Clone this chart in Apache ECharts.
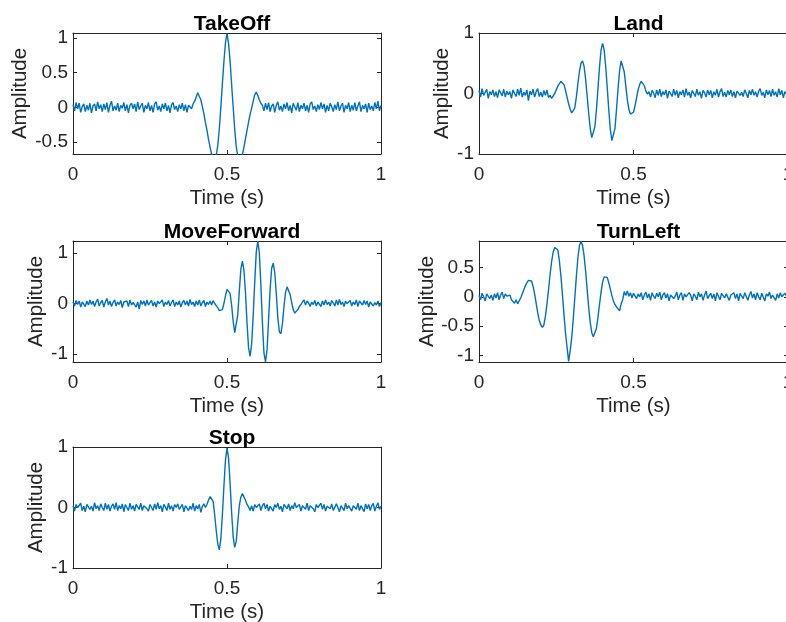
<!DOCTYPE html>
<html>
<head>
<meta charset="utf-8">
<script src="https://cdn.jsdelivr.net/npm/echarts@6/dist/echarts.min.js"></script>
<style>
  html, body { margin: 0; padding: 0; background: #fff; }
  #main { width: 786px; height: 622px; }
</style>
</head>
<body>
<div id="main"></div>
<script>
// traces are sampled every 5 ms, one row = 50 ms
var timeStep = 0.005;

var xTicks = [0, 0.5, 1];
var takeOffTicks = [-0.5, 0, 0.5, 1];
var landTicks = [-1, 0, 1];
var moveForwardTicks = [-1, 0, 1];
var turnLeftTicks = [-1, -0.5, 0, 0.5];
var stopTicks = [-1, 0, 1];

var takeOff = [
    0.04, -0.05, 0.07, -0.02, 0.06, -0.07, 0.01, 0.05, -0.06, 0.03,
    -0.04, 0.06, -0.08, 0.02, 0.05, -0.05, 0.08, -0.02, 0.04, -0.06,
    0.05, -0.03, 0.07, -0.07, 0.03, 0.09, -0.05, 0.02, -0.04, 0.06,
    -0.06, 0.03, -0.01, 0.07, -0.05, 0.04, -0.08, 0.03, 0.06, -0.02,
    0.05, -0.06, 0.08, -0.03, 0.02, 0.06, -0.07, 0.03, -0.02, 0.07,
    -0.05, 0.03, -0.07, 0.05, 0.08, -0.04, 0.02, -0.06, 0.05, -0.02,
    0.06, -0.05, 0.03, -0.08, 0.04, 0.07, -0.03, 0.02, -0.06, 0.04,
    -0.02, 0.06, -0.05, 0.04, -0.07, 0.03, 0.05, -0.02, 0.05, 0.09,
    0.15, 0.21, 0.19, 0.11, 0.01, -0.09, -0.22, -0.33, -0.46, -0.57,
    -0.67, -0.73, -0.75, -0.69, -0.55, -0.31, 0.0, 0.34, 0.66, 0.93,
    1.06, 0.92, 0.67, 0.33, 0.01, -0.31, -0.56, -0.70, -0.75, -0.74,
    -0.68, -0.57, -0.45, -0.33, -0.21, -0.10, -0.01, 0.09, 0.18, 0.22,
    0.17, 0.11, 0.06, 0.03, -0.05, 0.06, -0.03, 0.07, -0.06, 0.02,
    0.05, -0.07, 0.03, 0.08, -0.04, 0.02, -0.06, 0.05, -0.02, 0.07,
    -0.05, 0.03, -0.08, 0.06, 0.01, -0.04, 0.07, -0.06, 0.03, -0.02,
    0.06, -0.05, 0.03, -0.07, 0.05, 0.08, -0.03, 0.02, -0.06, 0.04,
    -0.03, 0.07, -0.02, 0.05, -0.07, 0.03, -0.05, 0.06, 0.01, -0.06,
    0.04, -0.03, 0.08, -0.05, 0.02, 0.06, -0.07, 0.03, -0.02, 0.07,
    -0.06, 0.03, -0.04, 0.07, -0.05, 0.02, 0.08, -0.06, 0.03, -0.02,
    0.05, -0.07, 0.06, -0.03, 0.02, -0.05, 0.07, -0.02, 0.09, -0.05,
    0.03
];

var land = [
    0.05, -0.06, 0.08, -0.03, 0.02, 0.07, -0.08, 0.03, -0.02, 0.06,
    -0.05, 0.03, -0.07, 0.06, 0.01, -0.04, 0.07, -0.06, 0.04, -0.02,
    0.03, -0.08, 0.06, 0.0, -0.05, 0.07, -0.03, 0.09, -0.06, 0.02,
    -0.03, 0.06, -0.12, 0.04, -0.02, 0.07, -0.06, 0.03, 0.08, -0.05,
    0.02, -0.06, 0.05, -0.03, 0.06, -0.07, -0.03, -0.08, -0.05, 0.0,
    0.06, 0.12, 0.15, 0.20, 0.22, 0.15, 0.05, -0.06, -0.17, -0.26,
    -0.32, -0.33, -0.24, -0.06, 0.16, 0.36, 0.50, 0.54, 0.45, 0.24,
    -0.04, -0.33, -0.58, -0.73, -0.72, -0.55, -0.27, 0.08, 0.44, 0.72,
    0.83, 0.72, 0.45, 0.10, -0.27, -0.59, -0.78, -0.78, -0.58, -0.26,
    0.08, 0.38, 0.54, 0.52, 0.36, 0.13, -0.10, -0.26, -0.34, -0.36,
    -0.31, -0.20, -0.07, 0.06, 0.15, 0.20, 0.21, 0.13, 0.04, -0.01,
    0.03, -0.06, 0.05, 0.01, -0.07, 0.06, -0.03, 0.07, -0.05, 0.03,
    -0.02, 0.06, -0.08, 0.04, 0.0, -0.05, 0.07, -0.03, 0.05, -0.07,
    0.03, -0.02, 0.06, -0.06, 0.08, -0.03, 0.02, -0.07, 0.05, 0.0,
    -0.05, 0.07, -0.03, 0.03, -0.08, 0.05, 0.01, -0.06, 0.06, -0.02,
    0.05, -0.07, 0.03, -0.03, 0.07, -0.06, 0.03, 0.08, -0.05, 0.02,
    -0.06, 0.05, -0.02, 0.06, -0.05, 0.03, -0.07, 0.04, 0.07, -0.03,
    0.02, -0.05, 0.06, 0.0, -0.07, 0.05, -0.02, 0.07, -0.03, 0.03,
    -0.06, 0.04, 0.08, -0.03, 0.02, -0.07, 0.06, -0.02, 0.05, -0.05,
    0.07, -0.03, 0.03, -0.06, 0.08, -0.02, 0.05, -0.07, 0.03, 0.06,
    -0.03
];

var moveForward = [
    0.03, -0.05, 0.06, -0.02, 0.05, -0.07, 0.03, 0.0, -0.06, 0.05,
    -0.03, 0.07, -0.02, 0.05, -0.06, 0.03, 0.09, -0.05, 0.02, 0.06,
    -0.07, 0.03, 0.10, -0.03, 0.05, -0.06, 0.02, 0.07, -0.05, 0.03,
    -0.02, 0.06, -0.08, 0.03, 0.0, 0.05, -0.06, 0.07, -0.03, 0.02,
    0.05, -0.07, 0.03, -0.11, 0.06, -0.02, 0.05, -0.05, 0.07, -0.03,
    0.02, 0.06, -0.05, 0.03, -0.07, 0.05, 0.0, -0.03, 0.07, -0.06,
    0.03, -0.02, 0.06, -0.05, 0.02, 0.07, -0.06, 0.03, -0.03, 0.05,
    -0.07, 0.02, 0.06, -0.03, 0.05, -0.05, 0.08, -0.02, 0.03, -0.06,
    0.05, -0.03, 0.07, -0.05, 0.02, 0.06, -0.06, 0.03, -0.02, 0.05,
    -0.03, 0.06, 0.0, -0.03, -0.08, -0.14, -0.17, -0.12, 0.0, 0.15,
    0.28, 0.31, 0.20, -0.03, -0.35, -0.58, -0.55, -0.22, 0.25, 0.68,
    0.84, 0.66, 0.22, -0.38, -0.88, -1.05, -0.80, -0.25, 0.42, 1.02,
    1.24, 1.00, 0.36, -0.38, -0.98, -1.16, -0.92, -0.32, 0.28, 0.70,
    0.80, 0.62, 0.20, -0.28, -0.56, -0.60, -0.40, -0.06, 0.22, 0.33,
    0.32, 0.18, 0.02, -0.12, -0.19, -0.18, -0.12, -0.06, -0.02, 0.03,
    0.07, -0.03, 0.05, 0.01, -0.06, 0.03, -0.02, 0.06, -0.05, 0.03,
    0.0, -0.06, 0.05, -0.03, 0.07, -0.02, 0.03, -0.05, 0.06, 0.01,
    -0.05, 0.07, -0.03, 0.08, -0.02, 0.03, -0.06, 0.05, 0.0, -0.03,
    0.06, -0.05, 0.03, -0.02, 0.07, -0.06, 0.05, 0.01, -0.03, 0.06,
    -0.02, 0.05, -0.07, 0.03, 0.06, -0.05, 0.02, -0.03, 0.05, -0.06,
    0.02
];

var turnLeft = [
    0.02, -0.05, 0.06, 0.0, -0.07, 0.05, 0.08, -0.03, 0.03, -0.06,
    0.05, -0.02, 0.07, -0.05, 0.03, 0.08, -0.03, 0.05, 0.01, -0.02,
    0.03, -0.05, -0.06, -0.11, -0.05, -0.12, -0.07, -0.02, 0.05, 0.12,
    0.19, 0.24, 0.28, 0.30, 0.27, 0.18, 0.05, -0.11, -0.27, -0.40,
    -0.48, -0.52, -0.48, -0.33, -0.12, 0.12, 0.38, 0.60, 0.76, 0.84,
    0.86, 0.80, 0.62, 0.36, 0.04, -0.30, -0.62, -0.86, -1.10, -0.92,
    -0.70, -0.38, -0.02, 0.34, 0.66, 0.87, 0.94, 0.88, 0.70, 0.44,
    0.13, -0.18, -0.44, -0.61, -0.68, -0.66, -0.54, -0.35, -0.13, 0.08,
    0.25, 0.34, 0.37, 0.33, 0.24, 0.13, 0.02, -0.07, -0.13, -0.17,
    -0.16, -0.24, -0.12, -0.05, 0.09, 0.02, 0.10, 0.01, 0.07, -0.02,
    0.06, 0.09, -0.03, 0.05, 0.0, 0.07, -0.05, 0.03, 0.08, -0.02,
    0.05, -0.06, 0.07, 0.01, -0.03, 0.06, 0.0, 0.08, -0.05, 0.03,
    0.07, -0.02, 0.05, -0.07, 0.03, 0.06, -0.03, 0.01, 0.08, -0.05,
    0.03, 0.07, -0.06, 0.05, 0.0, -0.03, 0.07, 0.03, -0.07, 0.05,
    0.01, -0.05, 0.08, 0.0, 0.05, -0.06, 0.03, 0.10, -0.03, 0.02,
    0.06, -0.03, 0.05, -0.07, 0.07, 0.01, -0.05, 0.06, 0.03, -0.02,
    0.05, 0.08, -0.06, 0.03, 0.0, 0.07, -0.03, 0.05, -0.07, 0.06,
    0.01, -0.03, 0.07, 0.05, -0.06, 0.03, 0.09, -0.02, 0.05, -0.05,
    0.07, 0.0, -0.05, 0.06, 0.03, -0.07, 0.05, 0.01, 0.08, -0.03,
    0.03, 0.06, -0.06, 0.05, -0.02, 0.07, 0.0, -0.03, 0.06, 0.01,
    0.04
];

var stop = [
    0.03, -0.06, 0.05, 0.0, -0.03, 0.07, -0.05, 0.02, -0.07, 0.05,
    0.06, -0.03, 0.02, -0.06, 0.08, -0.02, 0.03, -0.05, 0.06, 0.0,
    -0.05, 0.07, -0.03, 0.05, -0.06, 0.02, 0.06, -0.03, 0.08, -0.05,
    0.03, -0.02, 0.06, -0.07, 0.05, 0.0, -0.05, 0.07, -0.03, 0.03,
    -0.06, 0.05, 0.01, -0.03, 0.07, -0.05, 0.03, 0.06, -0.02, -0.06,
    0.05, 0.0, -0.05, 0.06, -0.03, 0.08, -0.02, 0.03, -0.07, 0.05,
    0.01, -0.05, 0.07, -0.03, 0.03, -0.06, 0.05, 0.0, 0.06, -0.03,
    -0.02, 0.05, -0.07, 0.03, 0.06, -0.05, 0.02, -0.03, 0.07, -0.06,
    0.03, -0.02, 0.05, -0.08, 0.02, 0.06, 0.0, 0.05, 0.12, 0.18,
    0.21, 0.10, -0.12, -0.38, -0.60, -0.70, -0.52, -0.12, 0.35, 0.78,
    0.98, 0.82, 0.40, -0.08, -0.48, -0.66, -0.56, -0.25, 0.03, 0.17,
    0.23, 0.20, 0.12, 0.05, 0.01, -0.05, 0.03, -0.06, 0.05, 0.0,
    -0.03, 0.06, -0.05, 0.03, 0.07, -0.02, 0.05, -0.06, 0.02, 0.03,
    -0.06, 0.05, 0.0, 0.07, -0.03, 0.02, -0.07, 0.05, 0.03, -0.02,
    0.06, -0.05, 0.03, -0.02, 0.08, 0.0, -0.03, 0.05, -0.06, 0.03,
    0.02, -0.03, 0.07, -0.05, 0.03, 0.06, -0.02, -0.07, 0.05, 0.0,
    0.03, 0.07, -0.03, 0.05, -0.06, 0.02, 0.05, -0.02, 0.06, -0.05,
    -0.03, 0.06, 0.0, -0.07, 0.03, 0.05, -0.05, 0.07, -0.02, 0.03,
    0.05, -0.06, 0.03, 0.02, -0.03, 0.07, -0.05, 0.03, 0.0, -0.07,
    0.06, -0.02, 0.05, -0.05, 0.03, 0.07, -0.06, 0.02, 0.08, -0.03,
    0.02
];

var font = "'Liberation Sans', Arial, sans-serif";
var ink = '#262626';
var lineBlue = '#0072BD';

var panels = [
    {title: 'TakeOff', values: takeOff, yTicks: takeOffTicks, yMin: -0.67, yMax: 1.07, left: 73, top: 33, width: 308, nameGap: 42},
    {title: 'Land', values: land, yTicks: landTicks, yMin: -1, yMax: 1, left: 479, top: 33, width: 309, nameGap: 26},
    {title: 'MoveForward', values: moveForward, yTicks: moveForwardTicks, yMin: -1.16, yMax: 1.24, left: 73, top: 241, width: 308, nameGap: 25},
    {title: 'TurnLeft', values: turnLeft, yTicks: turnLeftTicks, yMin: -1.11, yMax: 0.95, left: 479, top: 241, width: 309, nameGap: 40},
    {title: 'Stop', values: stop, yTicks: stopTicks, yMin: -1, yMax: 1, left: 73, top: 447, width: 308, nameGap: 25}
];

function toPairs(values) {
    return values.map(function (v, i) {
        return [Math.round(i * timeStep * 1000) / 1000, v];
    });
}

function boxAxis(i, pos, min, max, ticks) {
    return {
        gridIndex: i,
        type: 'value',
        position: pos,
        min: min,
        max: max,
        axisLine: {show: true, onZero: false, lineStyle: {color: ink, width: 1}},
        axisTick: {show: true, inside: true, length: 4, customValues: ticks, lineStyle: {color: ink, width: 1}},
        axisLabel: {show: false},
        splitLine: {show: false}
    };
}

var chart = echarts.init(document.getElementById('main'));

var grids = [], titles = [], xAxes = [], yAxes = [], series = [];

panels.forEach(function (p, i) {
    grids.push({left: p.left, top: p.top, width: p.width, height: 121, containLabel: false, outerBoundsMode: 'none'});

    titles.push({
        text: p.title,
        left: p.left + p.width / 2,
        top: p.top - 24,
        textAlign: 'center',
        textStyle: {fontFamily: font, fontSize: 21, fontWeight: 'bold', color: '#000'}
    });

    var xBottom = boxAxis(i, 'bottom', 0, 1, xTicks);
    xBottom.name = 'Time (s)';
    xBottom.nameLocation = 'middle';
    xBottom.nameGap = 34;
    xBottom.nameTextStyle = {fontFamily: font, fontSize: 20.5, color: ink};
    xBottom.axisLabel = {show: true, customValues: xTicks, margin: 11, fontFamily: font, fontSize: 19, color: ink};
    xAxes.push(xBottom);
    xAxes.push(boxAxis(i, 'top', 0, 1, xTicks));

    var yLeft = boxAxis(i, 'left', p.yMin, p.yMax, p.yTicks);
    yLeft.name = 'Amplitude';
    yLeft.nameLocation = 'middle';
    yLeft.nameGap = p.nameGap;
    yLeft.nameTextStyle = {fontFamily: font, fontSize: 20.5, color: ink};
    yLeft.axisLabel = {show: true, customValues: p.yTicks, margin: 5, fontFamily: font, fontSize: 19, color: ink};
    yAxes.push(yLeft);
    yAxes.push(boxAxis(i, 'right', p.yMin, p.yMax, p.yTicks));

    series.push({
        name: p.title,
        type: 'line',
        xAxisIndex: 2 * i,
        yAxisIndex: 2 * i,
        data: toPairs(p.values),
        showSymbol: false,
        clip: true,
        lineStyle: {color: lineBlue, width: 1.4},
        itemStyle: {color: lineBlue}
    });
});

chart.setOption({
    animation: false,
    backgroundColor: '#fff',
    title: titles,
    grid: grids,
    xAxis: xAxes,
    yAxis: yAxes,
    series: series
});
</script>
</body>
</html>
